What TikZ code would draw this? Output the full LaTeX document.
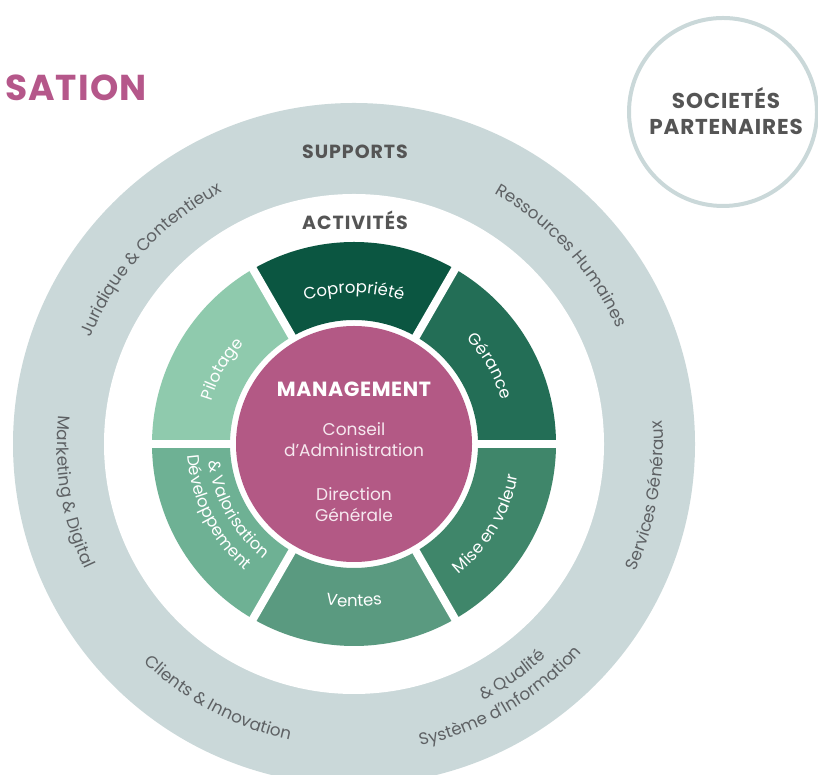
\documentclass[tikz,border=0pt]{standalone}
\usepackage{fontspec}
\setmainfont{Poppins}
\usetikzlibrary{decorations.text,calc}
\definecolor{ringc}{HTML}{CAD8D9}
\definecolor{pinkc}{HTML}{B35985}
\definecolor{titlec}{HTML}{B5578A}
\definecolor{headc}{HTML}{555555}
\definecolor{labc}{HTML}{5E6164}
\definecolor{inpink}{HTML}{F6E8EF}
\definecolor{sA}{HTML}{0B5641}
\definecolor{sB}{HTML}{236E56}
\definecolor{sC}{HTML}{3F866A}
\definecolor{sD}{HTML}{5A9A80}
\definecolor{sE}{HTML}{6EB194}
\definecolor{sF}{HTML}{8FCAAD}
\newcommand{\ringfont}{\fontsize{16.8}{19}\selectfont\color{labc}}
\newcommand{\segfont}{\fontsize{16.5}{19}\selectfont\color{white}}
% clockwise text (letter tops outward)
\newcommand{\cwtext}[5]{\path[decorate,decoration={text along path,text align=center,text={|#4|#5}}] ({#1+#3}:#2) arc[start angle={#1+#3}, end angle={#1-#3}, radius=#2pt];}
% counterclockwise text (letter tops inward)
\newcommand{\ccwtext}[5]{\path[decorate,decoration={text along path,text align=center,text={|#4|#5}}] ({#1-#3}:#2) arc[start angle={#1-#3}, end angle={#1+#3}, radius=#2pt];}
\tikzset{
  gapline/.style={white,line width=8pt},
  headtext/.style={text=headc,font={\fontsize{19}{26}\selectfont\bfseries\addfontfeatures{LetterSpace=5}},align=center,inner sep=0pt},
  soctextstyle/.style={text=headc,font={\fontsize{21.5}{26}\selectfont\bfseries\addfontfeatures{LetterSpace=4}},align=center,inner sep=0pt},
  inner/.style={text=inpink,font=\fontsize{17}{21}\selectfont,align=center,inner sep=0pt},
}
\begin{document}
\begin{tikzpicture}[x=1pt,y=1pt]
\useasboundingbox (0,0) rectangle (818,775);
\clip (0,0) rectangle (818,775);
\coordinate (C) at (354,331);
% outer support ring
\fill[ringc] (C) circle[radius=341pt];
\fill[white] (C) circle[radius=250pt];
\begin{scope}[shift={(354,331)}]
  % activity sectors
  \foreach \a/\col in {0/sB,60/sA,120/sF,180/sE,240/sD,300/sC}{
    \fill[\col] (\a:202) arc[start angle=\a, end angle=\a+60, radius=202pt]
      -- ({\a+60}:124) arc[start angle=\a+60, end angle=\a, radius=124pt] -- cycle;
  }
  \foreach \a in {0,60,...,300}{
    \draw[gapline] (\a:110) -- (\a:212);
  }
  % segment labels
  \cwtext{90}{151}{50}{\segfont}{Copropriété}
  \cwtext{29.8}{154}{50}{\segfont}{Gérance}
  \cwtext{150.4}{149}{50}{\segfont}{Pilotage}
  \ccwtext{-31}{167}{50}{\segfont}{Mise en valeur}
  \ccwtext{270}{163}{50}{\segfont}{Ventes}
  \ccwtext{206.6}{167}{50}{\segfont}{Développement}
  \ccwtext{209.4}{146}{50}{\segfont}{{\&} Valorisation}
  % support labels
  \cwtext{137.8}{284}{40}{\ringfont}{Juridique {\&} Contentieux}
  \cwtext{42.2}{287}{40}{\ringfont}{Ressources Humaines}
  \ccwtext{-10}{309}{40}{\ringfont}{Services Généraux}
  \ccwtext{189.7}{297}{40}{\ringfont}{Marketing {\&} Digital}
  \ccwtext{241.9}{303}{40}{\ringfont}{Clients {\&} Innovation}
  \ccwtext{300}{309}{40}{\ringfont}{Système d’Information}
  \ccwtext{304.4}{287}{40}{\ringfont}{{\&} Qualité}
\end{scope}
% management core
\node[circle,fill=pinkc,minimum size=236pt,inner sep=0pt] (mgmt) at (C) {};
\node[text=white,font={\fontsize{20.5}{23}\selectfont\bfseries\addfontfeatures{LetterSpace=3}},inner sep=0pt] (mtitle) at (354,386) {MANAGEMENT};
\node[inner] (conseil) at (354,335) {Conseil\\d’Administration};
\node[inner] (direction) at (354,270) {Direction\\Générale};
% headings
\node[headtext] (supports) at (355,623) {SUPPORTS};
\node[headtext] (activites) at (355,555) {ACTIVITÉS};
\node[text=titlec,font={\fontsize{36}{40}\selectfont\bfseries\addfontfeatures{LetterSpace=3}},anchor=west,inner sep=0pt] (title) at (5,687) {SATION};
% partner companies
\node[circle,draw=ringc,line width=4pt,minimum size=188pt,inner sep=0pt] (soc) at (723,663) {};
\node[soctextstyle] (soctext) at (726,664) {SOCIETÉS\\PARTENAIRES};
\end{tikzpicture}
\end{document}
